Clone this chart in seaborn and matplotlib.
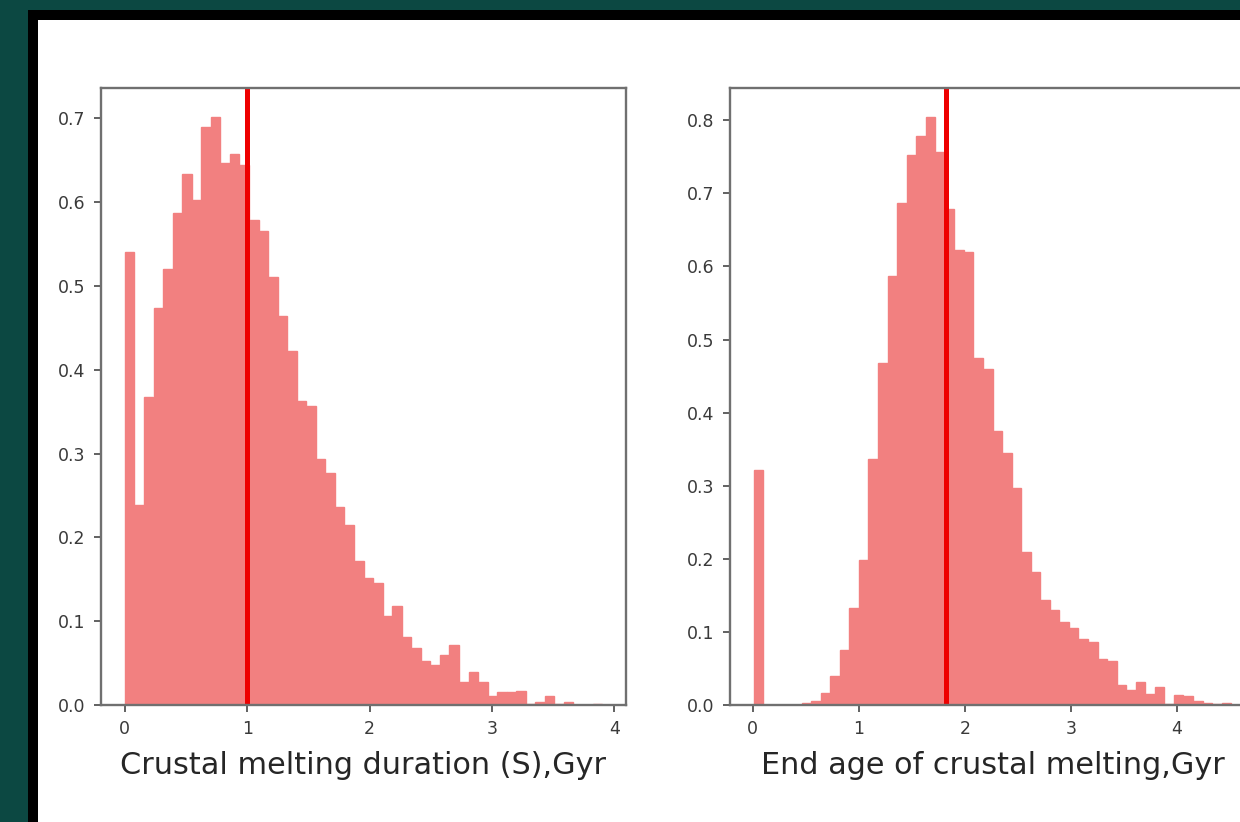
import numpy as np
import pandas as pd
import matplotlib
matplotlib.use("Agg")
import matplotlib.pyplot as plt
from matplotlib.patches import Rectangle
from matplotlib.ticker import FormatStrFormatter
import seaborn as sns

# Normalised histogram heights (density), 50 bins each
duration_edges_range = (0.0, 3.9)
duration_density = [
    0.541, 0.238, 0.367, 0.474, 0.520, 0.587, 0.634, 0.602, 0.689, 0.701,
    0.646, 0.657, 0.644, 0.579, 0.566, 0.510, 0.464, 0.422, 0.363, 0.357,
    0.293, 0.277, 0.236, 0.215, 0.172, 0.152, 0.145, 0.106, 0.118, 0.081,
    0.068, 0.052, 0.048, 0.060, 0.072, 0.028, 0.039, 0.028, 0.011, 0.015,
    0.015, 0.017, 0.001, 0.003, 0.011, 0.001, 0.003, 0.0, 0.0, 0.001,
]
duration_marker = 1.0

end_age_edges_range = (0.01, 4.51)
end_age_density = [
    0.321, 0.0, 0.0, 0.0, 0.0, 0.003, 0.005, 0.017, 0.039, 0.075,
    0.133, 0.199, 0.337, 0.468, 0.587, 0.687, 0.753, 0.779, 0.804, 0.756,
    0.679, 0.623, 0.620, 0.475, 0.460, 0.375, 0.345, 0.297, 0.210, 0.182,
    0.144, 0.130, 0.113, 0.105, 0.090, 0.086, 0.063, 0.060, 0.027, 0.021,
    0.032, 0.015, 0.024, 0.001, 0.014, 0.012, 0.005, 0.003, 0.001, 0.003,
]
end_age_marker = 1.82

xlabels = ["Crustal melting duration (S),Gyr", "End age of crustal melting,Gyr"]

sns.set_style("ticks")
plt.rcParams["font.family"] = ["DejaVu Sans"]

W, H = 1240, 822
fig = plt.figure(figsize=(W / 100, H / 100), dpi=100)
fig.patch.set_facecolor("#0c4842")

# black frame and white canvas
fig.patches.append(Rectangle((28 / W, 0), 1, 1 - 10 / H, transform=fig.transFigure,
                             facecolor="black", edgecolor="none", zorder=-2))
fig.patches.append(Rectangle((38 / W, 0), 1, 1 - 20 / H, transform=fig.transFigure,
                             facecolor="white", edgecolor="none", zorder=-1))

ax_w = 525 / W
ax_h = 617 / H
ax_b = (H - 705) / H
ax1 = fig.add_axes([101 / W, ax_b, ax_w, ax_h])
ax2 = fig.add_axes([730 / W, ax_b, ax_w, ax_h])

bar_color = "#f28080"
panels = [
    (ax1, duration_edges_range, duration_density, duration_marker, xlabels[0]),
    (ax2, end_age_edges_range, end_age_density, end_age_marker, xlabels[1]),
]

for ax, (lo, hi), dens, marker, label in panels:
    n = len(dens)
    edges = np.linspace(lo, hi, n + 1)
    table = pd.DataFrame({
        "value": 0.5 * (edges[:-1] + edges[1:]),
        "density": dens,
    })
    sns.histplot(data=table, x="value", weights="density", bins=edges.tolist(),
                 stat="count", color=bar_color, alpha=1.0,
                 edgecolor=bar_color, linewidth=1.0, ax=ax)
    ax.axvline(marker, color="#ee0000", linewidth=3.6)
    ax.set_facecolor("white")
    ax.set_ylabel("")
    ax.set_xlabel(label, fontsize=21.8, color="#262626", labelpad=9)
    ax.set_xticks([0, 1, 2, 3, 4])
    ax.margins(x=0.05, y=0.05)
    ax.set_ylim(bottom=0)
    for sp in ax.spines.values():
        sp.set_visible(True)
        sp.set_color("#707070")
        sp.set_linewidth(1.7)
        sp.set_zorder(3)
    ax.tick_params(axis="both", labelsize=12.5, labelcolor="#3a3a3a",
                   color="#555555", length=5, width=1.3, pad=6)

ax1.set_yticks(np.arange(0, 0.71, 0.1))
ax2.set_yticks(np.arange(0, 0.81, 0.1))
ax1.yaxis.set_major_formatter(FormatStrFormatter("%.1f"))
ax2.yaxis.set_major_formatter(FormatStrFormatter("%.1f"))

fig.savefig("out.png", dpi=100, facecolor=fig.get_facecolor())
